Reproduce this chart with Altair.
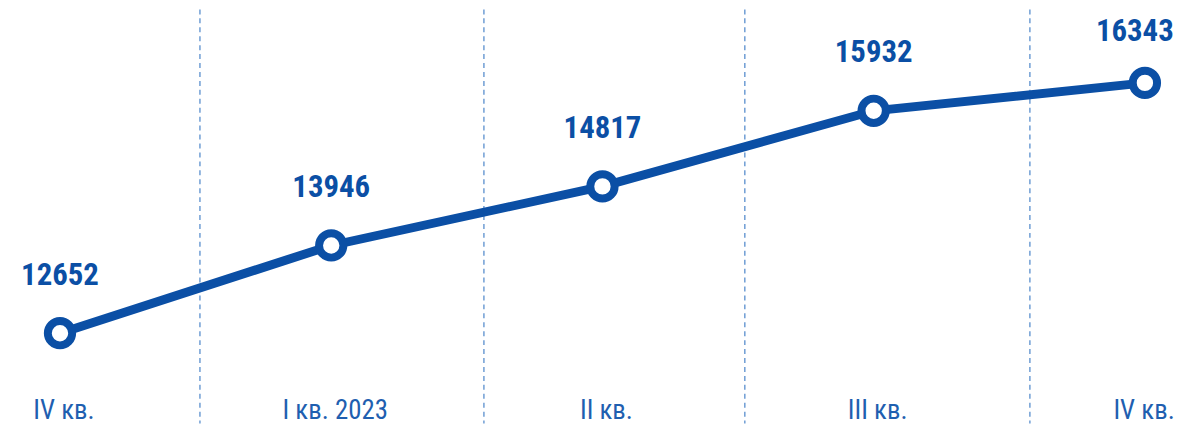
import altair as alt
import pandas as pd

quarters = ["IV кв.", "I кв. 2023", "II кв.", "III кв.", "IV кв."]
values = [12652, 13946, 14817, 15932, 16343]
positions = [0, 1, 2, 3, 4]
dividers = [0.516, 1.563, 2.525, 3.576]

df = pd.DataFrame({"pos": positions, "value": values, "quarter": quarters})
div_df = pd.DataFrame({"pos": dividers})

W, H = 1178, 417
FONT = "Liberation Sans Narrow, Roboto Condensed, DejaVu Sans Condensed, sans-serif"
LINE = "#0b4fa5"

xs = alt.Scale(domain=[-0.1917, 4.122], nice=False, zero=False)
ys = alt.Scale(domain=[11319, 17427], nice=False, zero=False)
X = alt.X("pos:Q", scale=xs, axis=None)
Y = alt.Y("value:Q", scale=ys, axis=None)

base = alt.Chart(df)
inner = base.transform_filter("datum.pos < 4")
last = base.transform_filter("datum.pos == 4")

rules = alt.Chart(div_df).mark_rule(color="#4a84c9", strokeWidth=1.2, strokeDash=[5, 4]).encode(
    x=alt.X("pos:Q", scale=xs, axis=None), y=alt.value(0), y2=alt.value(H)
)
line = base.mark_line(color=LINE, strokeWidth=9).encode(x=X, y=Y)
points = base.mark_point(
    filled=False, fill="white", fillOpacity=1, color=LINE, strokeWidth=8, size=600, opacity=1
).encode(x=X, y=Y)

vstyle = dict(font=FONT, fontSize=31, fontWeight="bold", color=LINE, baseline="middle")
qstyle = dict(font=FONT, fontSize=27, color="#1f5fb0", baseline="middle")

vlabels = inner.mark_text(dy=-58, **vstyle).encode(x=X, y=Y, text="value:Q")
vlast = last.mark_text(align="right", dx=29, dy=-51, **vstyle).encode(x=X, y=Y, text="value:Q")
qlabels = inner.mark_text(dx=4, **qstyle).encode(x=X, y=alt.value(404), text="quarter:N")
qlast = last.mark_text(align="right", dx=30, **qstyle).encode(x=X, y=alt.value(404), text="quarter:N")

chart = (rules + line + points + vlabels + vlast + qlabels + qlast).properties(
    width=W, height=H, padding=0, autosize=alt.AutoSizeParams(type="none")
).configure_view(strokeWidth=0)

chart.save("out.html", embed_options={"renderer": "svg", "actions": False})
